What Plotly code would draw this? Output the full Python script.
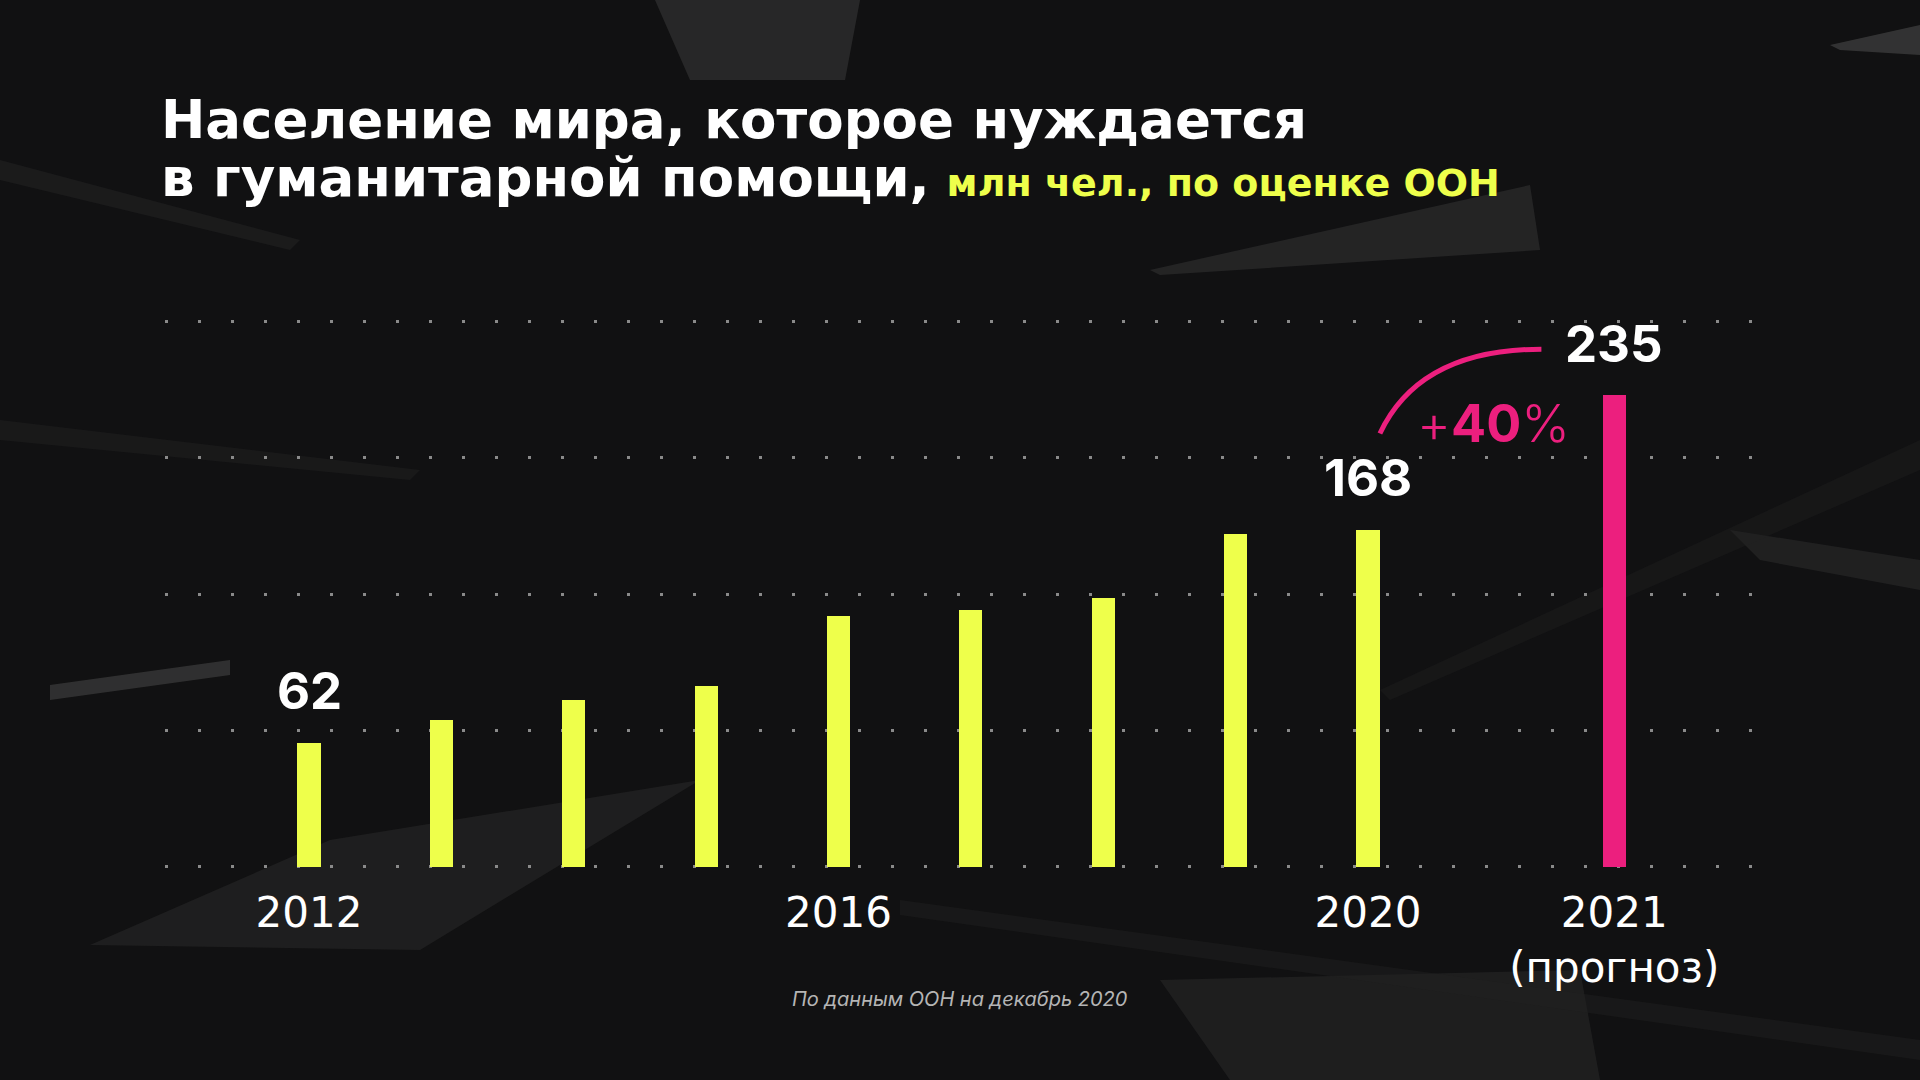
import plotly.graph_objects as go

# ---------------- data ----------------
years = [2012, 2013, 2014, 2015, 2016, 2017, 2018, 2019, 2020, 2021]
people_mln = [62, 73, 83, 90, 125, 128, 134, 166, 168, 235]
is_forecast = [False] * 9 + [True]
labelled_years = [2012, 2020, 2021]
tick_years = [2012, 2016, 2020, 2021]
tick_labels = ["2012", "2016", "2020", "2021<br>(прогноз)"]
growth_label = "+40%"
title_line1 = "Население мира, которое нуждается"
title_line2 = "в гуманитарной помощи,"
subtitle = "млн чел., по оценке ООН"
source_note = "По данным ООН на декабрь 2020"

# ---------------- style ----------------
BG = "#111112"
YELLOW = "#EEFF4B"
PINK = "#EC1F7E"
GRID = "#8a8a8a"
FONT = "Inter"
WIDE = "DejaVu Sans"
FORECAST_GAP = 0.86
GRID_STEP = 68

def pos(year, fc):
    return (year - years[0]) + (FORECAST_GAP if fc else 0)

xpos = [pos(y, f) for y, f in zip(years, is_forecast)]
colors = [PINK if f else YELLOW for f in is_forecast]

fig = go.Figure()
fig.add_trace(go.Bar(
    x=xpos, y=people_mln, width=0.175,
    marker=dict(color=colors, line=dict(width=0)),
    hoverinfo="skip",
))

# value labels
for y, f, v in zip(years, is_forecast, people_mln):
    if y in labelled_years:
        fig.add_annotation(x=pos(y, f), y=v, xref="x", yref="y", text=f"<b>{v}</b>",
                           showarrow=False, yanchor="middle", yshift=52,
                           font=dict(family=FONT, size=51, color="white"))

# growth arc + label
i20 = years.index(2020)
i21 = years.index(2021)
x0, y0 = xpos[i20] + 0.09, people_mln[i20] + 48
x1, y1 = xpos[i21] - 0.55, people_mln[i21] + 23
cx, cy = x0 + 0.3, y1
fig.add_shape(type="path", xref="x", yref="y",
              path=f"M {x0},{y0} Q {cx},{cy} {x1},{y1}",
              line=dict(color=PINK, width=5))
fig.add_annotation(x=(xpos[i20] + xpos[i21]) / 2 + 0.02, y=people_mln[i21] - 14,
                   xref="x", yref="y", showarrow=False,
                   text="<span style='font-weight:300'>+</span><b>40</b><span style='font-weight:300'>%</span>",
                   font=dict(family=FONT, size=52, color=PINK))

# title
fig.add_annotation(x=-0.004, y=1.283, xref="paper", yref="paper", xanchor="left", yanchor="middle",
                   showarrow=False, text=f"<b>{title_line1}</b>",
                   font=dict(family=WIDE, size=53, color="white"))
fig.add_annotation(x=-0.004, y=1.183, xref="paper", yref="paper", xanchor="left", yanchor="middle",
                   showarrow=False,
                   text=f"<b>{title_line2}</b> <span style='font-size:38px;color:{YELLOW}'><b>{subtitle}</b></span>",
                   font=dict(family=WIDE, size=53, color="white"))

# source
fig.add_annotation(x=0.5, y=-0.242, xref="paper", yref="paper", showarrow=False,
                   text=f"<i>{source_note}</i>",
                   font=dict(family=FONT, size=20, color="#b5b5b5"))

# background decoration (pixel helper -> paper coords)
L, R, T, B = 165, 166, 285, 209
W, H = 1920 - L - R, 1080 - T - B
def px(xp, yp):
    return (xp - L) / W, (1080 - B - yp) / H

def poly(points, color, opacity):
    path = "M " + " L ".join(f"{px(a, b)[0]},{px(a, b)[1]}" for a, b in points) + " Z"
    fig.add_shape(type="path", xref="paper", yref="paper", path=path, layer="below",
                  fillcolor=color, opacity=opacity, line=dict(width=0))

poly([(655, 0), (860, 0), (845, 80), (690, 80)], "#3a3a3a", 0.55)
poly([(1150, 270), (1530, 185), (1540, 250), (1160, 275)], "#3c3c3c", 0.45)
poly([(1830, 45), (1920, 25), (1920, 55), (1840, 50)], "#4a4a4a", 0.6)
poly([(50, 685), (230, 660), (230, 675), (50, 700)], "#444", 0.6)
poly([(90, 945), (330, 840), (700, 780), (420, 950)], "#2c2c2c", 0.5)
poly([(1160, 980), (1580, 970), (1600, 1080), (1230, 1080)], "#2f2f2f", 0.45)
poly([(1730, 530), (1920, 560), (1920, 590), (1760, 560)], "#333", 0.45)
poly([(0, 160), (300, 240), (290, 250), (0, 180)], "#2a2a2a", 0.4)
poly([(0, 420), (420, 470), (410, 480), (0, 440)], "#262626", 0.4)
poly([(1380, 690), (1920, 440), (1920, 470), (1390, 700)], "#222", 0.35)
poly([(900, 900), (1920, 1040), (1920, 1060), (900, 915)], "#1f1f1f", 0.5)

fig.update_layout(
    width=1920, height=1080,
    paper_bgcolor=BG, plot_bgcolor="rgba(0,0,0,0)",
    margin=dict(l=L, r=R, t=T, b=B),
    showlegend=False,
    bargap=0,
    xaxis=dict(range=[-1.088, 10.916], tickvals=[pos(y, y == 2021) for y in tick_years],
               ticktext=tick_labels, showgrid=False, zeroline=False, showline=False,
               ticks="", ticklabelstandoff=13,
               tickfont=dict(family=WIDE, size=42, color="white"), fixedrange=True),
    yaxis=dict(range=[-2, 290], tickvals=[GRID_STEP * k for k in range(5)],
               showticklabels=False, showgrid=True, gridcolor=GRID, gridwidth=3,
               griddash="3px,30px", zeroline=False, showline=False, fixedrange=True),
)

fig.write_html("out.html")
